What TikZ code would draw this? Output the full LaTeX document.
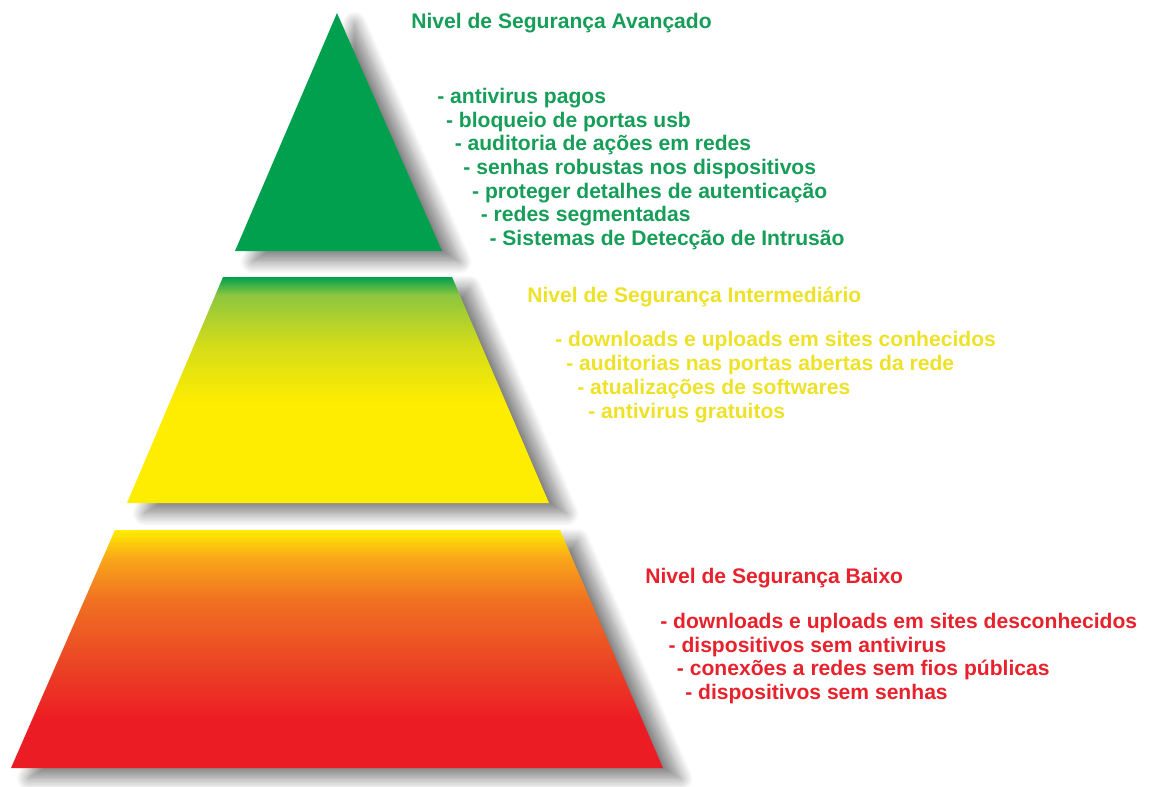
\documentclass[tikz,border=0pt]{standalone}
\usepackage{fontspec}
\setmainfont{Liberation Sans}
\usetikzlibrary{shadows.blur}

\definecolor{topgreen}{RGB}{0,160,78}
\definecolor{greentext}{RGB}{22,158,88}
\definecolor{yellowtext}{RGB}{238,226,40}
\definecolor{redtext}{RGB}{232,34,44}
\definecolor{lvyellow}{RGB}{255,237,0}
\definecolor{lvlime}{RGB}{141,198,63}
\definecolor{lvchart}{RGB}{212,220,26}
\definecolor{lvamber}{RGB}{249,165,26}
\definecolor{lvorange}{RGB}{240,112,34}
\definecolor{lvvermil}{RGB}{235,69,36}
\definecolor{lvred}{RGB}{236,28,36}

\pgfdeclareverticalshading{midfill}{100bp}{color(0bp)=(lvyellow); color(25bp)=(lvyellow); color(47bp)=(lvyellow); color(60bp)=(lvchart); color(71bp)=(lvlime); color(75bp)=(topgreen); color(100bp)=(topgreen)}
\pgfdeclareverticalshading{lowfill}{100bp}{color(0bp)=(lvred); color(25bp)=(lvred); color(35bp)=(lvred); color(47bp)=(lvvermil); color(60bp)=(lvorange); color(69bp)=(lvamber); color(75bp)=(lvyellow); color(100bp)=(lvyellow)}

\tikzset{
  lvshadow/.style={blur shadow={shadow xshift=10pt,shadow yshift=-6pt,shadow blur radius=7pt,shadow blur steps=16,shadow opacity=50}},
  lvtitle/.style={anchor=west,inner sep=0pt,font=\fontsize{12}{14}\selectfont\bfseries},
  lvitem/.style={lvtitle}
}

\begin{document}
\begin{tikzpicture}[x=0.02cm,y=-0.02cm]
    \useasboundingbox (0,0) rectangle (1149,787);
    \fill[topgreen,lvshadow] (337,13) -- (442,251) -- (235,251) -- cycle;
    \shade[shading=midfill,lvshadow] (223,277) -- (452,277) -- (549,503) -- (127,503) -- cycle;
    \shade[shading=lowfill,lvshadow] (115,530) -- (560,530) -- (663,768) -- (11,768) -- cycle;

    \node[lvtitle,text=greentext] (avtitle) at (411,23) {Nivel de Segurança Avançado};
    \foreach \t [count=\i] in {- antivirus pagos,- bloqueio de portas usb,- auditoria de ações em redes,- senhas robustas nos dispositivos,- proteger detalhes de autenticação,- redes segmentadas,- Sistemas de Detecção de Intrusão}
        \node[lvitem,text=greentext] (av\i) at ({437+8.7*(\i-1)},{98+23.7*(\i-1)}) {\t};

    \node[lvtitle,text=yellowtext] (intitle) at (527,297) {Nivel de Segurança Intermediário};
    \foreach \t [count=\i] in {- downloads e uploads em sites conhecidos,- auditorias nas portas abertas da rede,- atualizações de softwares,- antivirus gratuitos}
        \node[lvitem,text=yellowtext] (in\i) at ({555+11*(\i-1)},{341+24*(\i-1)}) {\t};

    \node[lvtitle,text=redtext] (bxtitle) at (645,578) {Nivel de Segurança Baixo};
    \foreach \t [count=\i] in {- downloads e uploads em sites desconhecidos,- dispositivos sem antivirus,- conexões a redes sem fios públicas,- dispositivos sem senhas}
        \node[lvitem,text=redtext] (bx\i) at ({660+8.3*(\i-1)},{623+23.7*(\i-1)}) {\t};
\end{tikzpicture}
\end{document}
